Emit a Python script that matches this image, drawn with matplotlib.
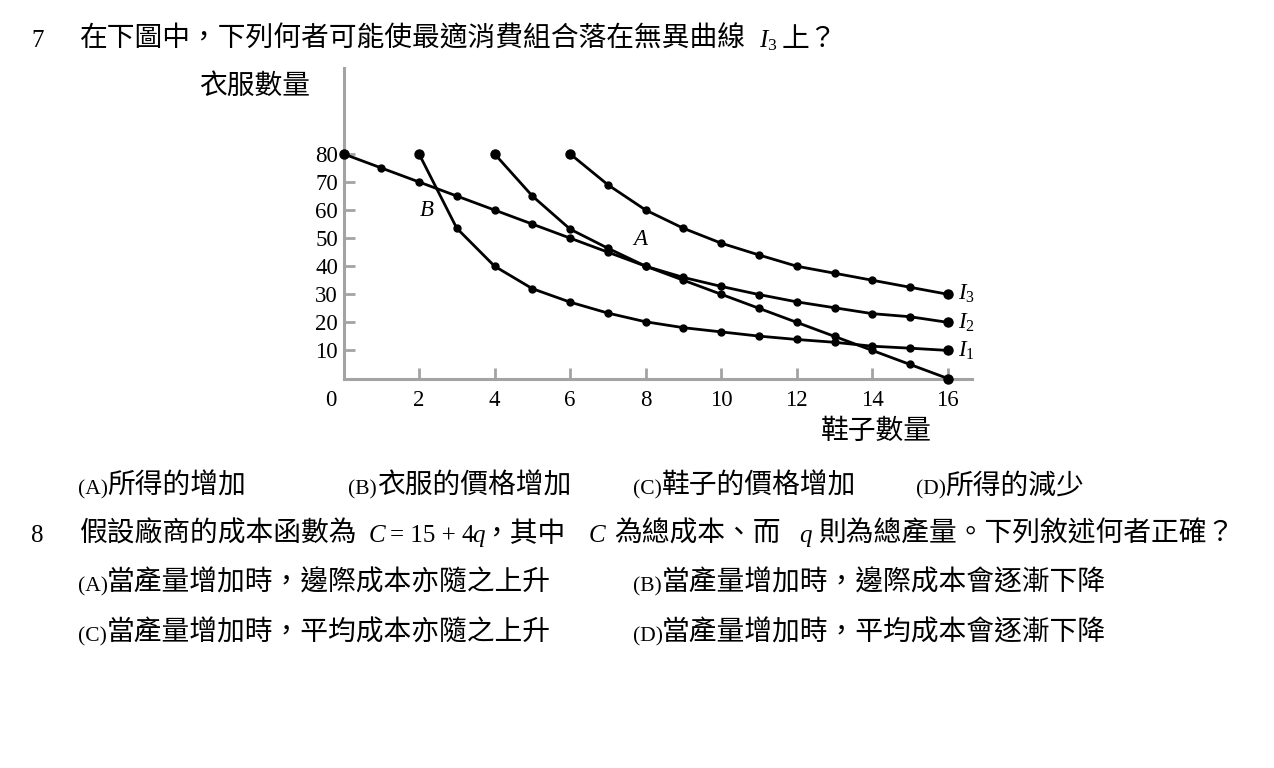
"""
Indifference curves I1-I3 and a budget line (shoes vs clothes),
laid out as an exam page with questions 7 and 8.
Output: out.png (1274x768)
"""
import matplotlib
matplotlib.use("Agg")
import matplotlib.pyplot as plt

# ── Data ──────────────────────────────────────────────────────────────────────
BUDGET_X = [0, 1, 2, 3, 4, 5, 6, 7, 8, 9, 10, 11, 12, 13, 14, 15, 16]
BUDGET_Y = [80, 75, 70, 65, 60, 55, 50, 45, 40, 35, 30, 25, 20, 15, 10, 5, 0]

I1_X = [2, 3, 4, 5, 6, 7, 8, 9, 10, 11, 12, 13, 14, 15, 16]
I1_Y = [80, 53.5, 40, 32, 27.2, 23.3, 20.2, 18.1, 16.6, 15.1, 13.9, 12.9, 11.5, 10.8, 10]

I2_X = [4, 5, 6, 7, 8, 9, 10, 11, 12, 13, 14, 15, 16]
I2_Y = [80, 65, 53.2, 46.4, 40, 36, 32.8, 29.9, 27.3, 25.2, 23.1, 22, 20]

I3_X = [6, 7, 8, 9, 10, 11, 12, 13, 14, 15, 16]
I3_Y = [80, 69, 60, 53.5, 48.2, 44, 40, 37.5, 35, 32.5, 30]

X_TICKS = [2, 4, 6, 8, 10, 12, 14, 16]
Y_TICKS = [10, 20, 30, 40, 50, 60, 70, 80]

# ── Style ─────────────────────────────────────────────────────────────────────
W, H = 1274, 768
GRAY = "#a3a3a3"
FAM = ["Liberation Serif", "Noto Sans CJK TC"]
FS = 20      # CJK body text
FS_LAT = 18  # latin runs inside the body text

plt.rcParams.update({
    "font.family": FAM,
    "mathtext.fontset": "custom",
    "mathtext.rm": "Liberation Serif",
    "mathtext.it": "Liberation Serif:italic",
})

fig = plt.figure(figsize=(W / 100, H / 100), dpi=100)
fig.patch.set_facecolor("white")


def px(x, y):
    """pixel position on the page -> figure fraction"""
    return x / W, 1 - y / H


def put(x, y, s, size=FS, va="baseline", **kw):
    fig.text(*px(x, y), s, fontsize=size, va=va, ha=kw.pop("ha", "left"), **kw)


# ── Plot panel ────────────────────────────────────────────────────────────────
ax = fig.add_axes([343.5 / W, (H - 378.5) / H, (972 - 343.5) / W, (378.5 - 68) / H])
ax.set_xlim(0, 16.64)
ax.set_ylim(0, 110.6)

for xs, ys in [(BUDGET_X, BUDGET_Y), (I1_X, I1_Y), (I2_X, I2_Y), (I3_X, I3_Y)]:
    ax.plot(xs, ys, "-o", color="black", lw=2.0, ms=5, clip_on=False, zorder=3)
    ax.plot([xs[0], xs[-1]], [ys[0], ys[-1]], "o", color="black", ms=6.5,
            clip_on=False, zorder=4)

for side in ["top", "right"]:
    ax.spines[side].set_visible(False)
for side in ["left", "bottom"]:
    ax.spines[side].set_color(GRAY)
    ax.spines[side].set_linewidth(2.2)

ax.set_xticks(X_TICKS)
ax.set_yticks(Y_TICKS)
ax.tick_params(direction="in", length=8, width=2, color=GRAY, labelsize=16.5)
ax.tick_params(axis="x", pad=8)
ax.tick_params(axis="y", pad=4)
ax.annotate("0", xy=(0, 0), xytext=(-9, -8), textcoords="offset points",
            ha="center", va="top", fontsize=16.5)

# point labels and curve names
ax.annotate("B", xy=(2.2, 60), ha="center", va="center", fontsize=16.5,
            style="italic")
ax.annotate("A", xy=(7.85, 49.5), ha="center", va="center", fontsize=16.5,
            style="italic")
for name, ys in [("$I_3$", I3_Y), ("$I_2$", I2_Y), ("$I_1$", I1_Y)]:
    ax.annotate(name, xy=(16, ys[-1]), xytext=(7, 0), textcoords="offset points",
                ha="left", va="center", fontsize=16.5)

put(255, 87, "衣服數量", va="center", ha="center")
put(876, 432, "鞋子數量", va="center", ha="center")

# ── Question 7 ────────────────────────────────────────────────────────────────
put(31, 47, "7", size=FS_LAT)
put(80, 47, "在下圖中，下列何者可能使最適消費組合落在無異曲線")
put(759, 47, "$I_3$", size=FS_LAT)
put(782, 47, "上？")

for x, tag, s in [(78, "(A)", "所得的增加"), (348, "(B)", "衣服的價格增加"),
                  (633, "(C)", "鞋子的價格增加"), (916, "(D)", "所得的減少")]:
    put(x, 494, tag, size=15.5)
    put(x + 29, 494, s)

# ── Question 8 ────────────────────────────────────────────────────────────────
put(31, 542, "8", size=FS_LAT)
put(80, 542, "假設廠商的成本函數為")
put(369, 542, "C", size=FS_LAT, style="italic")
put(390, 542, "= 15 + 4", size=FS_LAT)
put(472, 542, "q", size=FS_LAT, style="italic")
put(482, 542, "，其中")
put(589, 542, "C", size=FS_LAT, style="italic")
put(614, 542, "為總成本、而")
put(799, 542, "q", size=FS_LAT, style="italic")
put(818, 542, "則為總產量。下列敘述何者正確？")

for x, y, tag, s in [(78, 591, "(A)", "當產量增加時，邊際成本亦隨之上升"),
                     (633, 591, "(B)", "當產量增加時，邊際成本會逐漸下降"),
                     (78, 641, "(C)", "當產量增加時，平均成本亦隨之上升"),
                     (633, 641, "(D)", "當產量增加時，平均成本會逐漸下降")]:
    put(x, y, tag, size=15.5)
    put(x + 29, y, s)

fig.savefig("out.png", dpi=100, facecolor="white")
plt.close(fig)
